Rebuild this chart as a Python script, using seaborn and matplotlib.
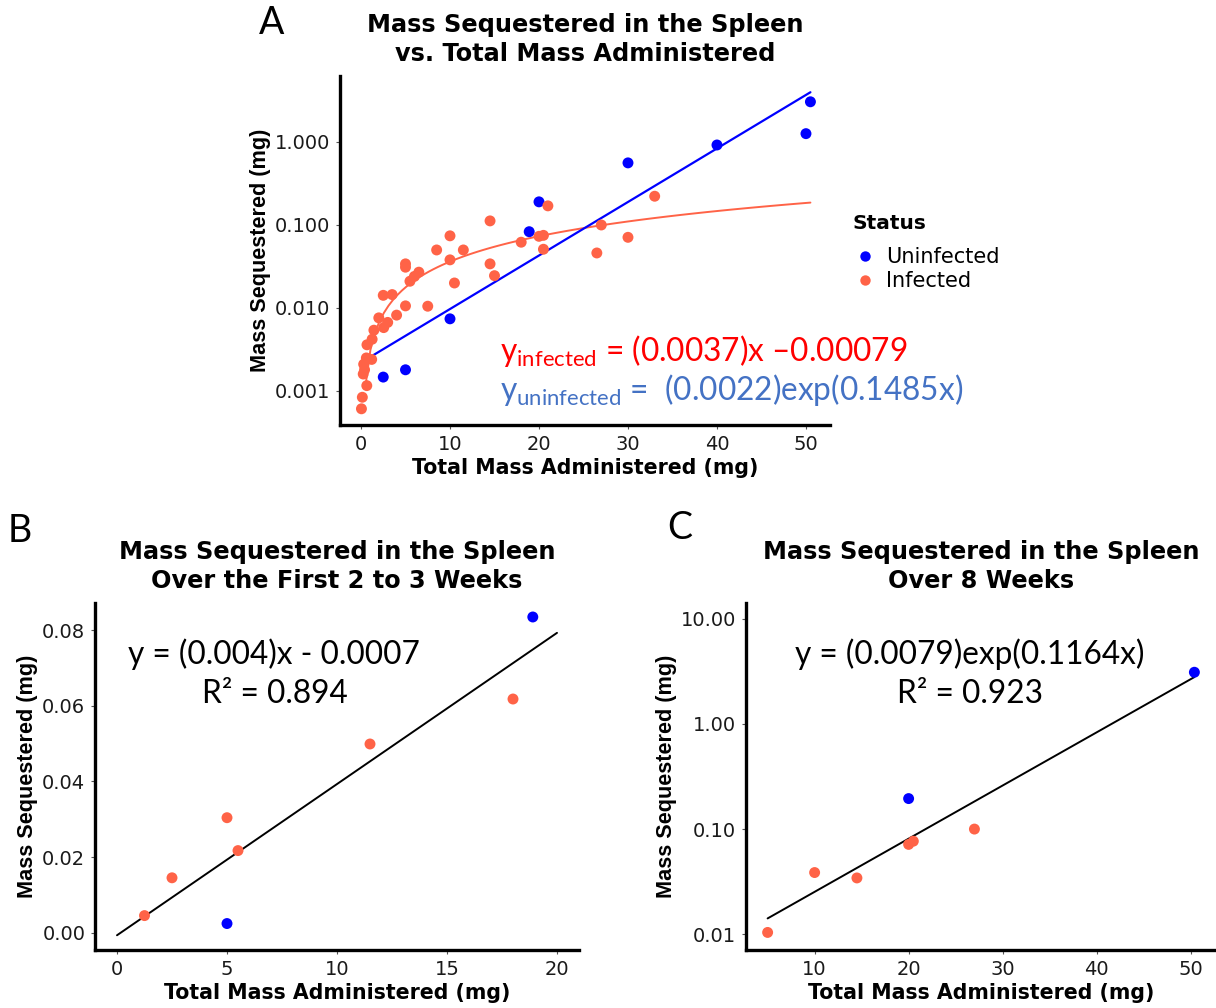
import numpy as np
import pandas as pd
import matplotlib
matplotlib.use("Agg")
import matplotlib.pyplot as plt
import seaborn as sns

# ---------------- data ----------------
status_order = ["Uninfected", "Infected"]
status_colors = ["#0000FF", "#FF6347"]

# Panel A
a_inf_x = [0.05, 0.15, 0.65, 0.25, 0.4, 0.3, 1.2, 0.6, 0.67, 1.25, 1.45, 2.0, 2.55, 3.0,
           2.5, 3.5, 4.0, 5.0, 5.0, 5.0, 5.5, 6.0, 6.5, 7.5, 8.5, 10.0, 10.0, 10.5, 11.5,
           14.5, 14.5, 15.0, 18.0, 20.0, 20.5, 20.5, 21.0, 26.5, 27.0, 30.0, 33.0]
a_inf_y = [0.00061, 0.00084, 0.00116, 0.00160, 0.00180, 0.0021, 0.0024, 0.0025, 0.0036, 0.0042,
           0.0054, 0.0076, 0.0058, 0.0067, 0.0142, 0.0145, 0.0082, 0.0106, 0.034, 0.031, 0.021,
           0.024, 0.027, 0.0105, 0.050, 0.074, 0.038, 0.020, 0.050, 0.112, 0.034, 0.0245, 0.062,
           0.073, 0.075, 0.051, 0.17, 0.046, 0.100, 0.071, 0.222]
a_uninf_x = [2.5, 5.0, 10.0, 18.9, 20.0, 30.0, 40.0, 50.0, 50.5]
a_uninf_y = [0.00147, 0.0018, 0.0074, 0.083, 0.19, 0.56, 0.92, 1.26, 3.05]
a_inf_coef = [0.0037, -0.00079]      # y = a*x + b
a_uninf_coef = [0.0022, 0.1485]      # y = a*exp(b*x)

# Panel B
b_inf_x = [1.25, 2.5, 5.0, 5.5, 11.5, 18.0]
b_inf_y = [0.0045, 0.0145, 0.0304, 0.0217, 0.0499, 0.0618]
b_uninf_x = [5.0, 18.9]
b_uninf_y = [0.0024, 0.0835]
b_coef = [0.004, -0.0007]
b_line_range = [0.0, 20.0]

# Panel C
c_inf_x = [5.0, 10.0, 14.5, 20.0, 20.5, 27.0]
c_inf_y = [0.0104, 0.0386, 0.0343, 0.0715, 0.0767, 0.100]
c_uninf_x = [20.0, 50.4]
c_uninf_y = [0.195, 3.1]
c_coef = [0.0079, 0.1164]

a_yticks = [0.001, 0.01, 0.1, 1.0]
a_yticklabels = ["0.001", "0.010", "0.100", "1.000"]
b_yticks = [0.0, 0.02, 0.04, 0.06, 0.08]
b_yticklabels = ["0.00", "0.02", "0.04", "0.06", "0.08"]
c_yticks = [0.01, 0.1, 1.0, 10.0]
c_yticklabels = ["0.01", "0.10", "1.00", "10.00"]

# ---------------- styling ----------------
sns.set_style("white")
plt.rcParams["font.family"] = ["DejaVu Sans"]
plt.rcParams["text.color"] = "black"
plt.rcParams["axes.labelcolor"] = "black"
plt.rcParams["mathtext.fontset"] = "custom"
plt.rcParams["mathtext.rm"] = "Lato"
plt.rcParams["mathtext.it"] = "Lato"

W, H = 1216, 1008
fig = plt.figure(figsize=(W / 100, H / 100), dpi=100)


def rect(l, t, r, b):
    return [l / W, 1 - b / H, (r - l) / W, (b - t) / H]


def frame(df_x, df_y, st):
    return pd.DataFrame({"x": df_x, "y": df_y, "Status": st})


def make_df(ix, iy, ux, uy):
    return pd.concat([frame(ux, uy, ["Uninfected"] * len(ux)),
                      frame(ix, iy, ["Infected"] * len(ix))], ignore_index=True)


def style_ax(ax, title):
    for s in ["top", "right"]:
        ax.spines[s].set_visible(False)
    for s in ["left", "bottom"]:
        ax.spines[s].set_linewidth(2.4)
        ax.spines[s].set_color("black")
    ax.tick_params(axis="both", which="major", length=3, width=0.8, color="#555555",
                   labelsize=14, labelcolor="#1a1a1a", pad=4, left=True, bottom=True)
    ax.tick_params(axis="both", which="minor", length=0)
    ax.set_xlabel("Total Mass Administered (mg)", fontsize=14.8, fontweight="bold",
                  labelpad=3, color="black")
    ax.set_ylabel("Mass Sequestered (mg)", fontsize=15.6, fontweight="bold", labelpad=3,
                  family=["Liberation Sans", "DejaVu Sans"], color="black")
    ax.set_title(title, fontsize=17.3, fontweight="bold", pad=10.5, linespacing=1.26,
                 color="black")
    ax.grid(False)


pal = dict(zip(status_order, status_colors))
eqfont = ["Lato", "DejaVu Sans"]
eqsize = 22.8

# ---------------- Panel A ----------------
axA = fig.add_axes(rect(340, 76, 830, 425))
dfA = make_df(a_inf_x, a_inf_y, a_uninf_x, a_uninf_y)
xs_all = a_inf_x + a_uninf_x
gx = np.linspace(min(xs_all), max(xs_all), 101)
gy_inf = a_inf_coef[0] * gx + a_inf_coef[1]
keep = gy_inf > 0
gy_un = a_uninf_coef[0] * np.exp(a_uninf_coef[1] * gx)
sns.lineplot(x=gx[keep], y=gy_inf[keep], ax=axA, color=status_colors[1], linewidth=1.4,
             estimator=None, sort=False, legend=False)
sns.lineplot(x=gx, y=gy_un, ax=axA, color=status_colors[0], linewidth=1.6,
             estimator=None, sort=False, legend=False)
sns.scatterplot(data=dfA, x="x", y="y", hue="Status", hue_order=status_order, palette=pal,
                s=62, linewidth=0, ax=axA, zorder=3)
axA.set_yscale("log")
axA.set_xlim(-2.36, 52.7)
axA.set_ylim(10 ** -3.41, 10 ** 0.795)
axA.set_xticks([0, 10, 20, 30, 40, 50])
axA.set_yticks(a_yticks)
axA.set_yticklabels(a_yticklabels)
style_ax(axA, "Mass Sequestered in the Spleen\nvs. Total Mass Administered")
leg = axA.legend(title="Status", loc="upper left", bbox_to_anchor=(852 / W, 1 - 214 / H),
                 bbox_transform=fig.transFigure, frameon=False, fontsize=15,
                 title_fontsize=14.5, handletextpad=0.45, labelspacing=0.2,
                 borderaxespad=0, borderpad=0, handlelength=1.2, markerscale=0.95)
leg.get_title().set_fontweight("bold")
leg._legend_box.align = "left"
leg._legend_box.sep = 10

fig.text(500 / W, 1 - 351 / H, r"$\mathrm{y}_{\mathrm{infected}}$ = (0.0037)x –0.00079",
         color="#FF0000", fontsize=eqsize, family=eqfont, ha="left", va="center")
fig.text(500 / W, 1 - 390 / H, r"$\mathrm{y}_{\mathrm{uninfected}}$ =  (0.0022)exp(0.1485x)",
         color="#4472C4", fontsize=eqsize, family=eqfont, ha="left", va="center")

# ---------------- Panel B ----------------
axB = fig.add_axes(rect(95, 603, 579, 950))
dfB = make_df(b_inf_x, b_inf_y, b_uninf_x, b_uninf_y)
bx = np.array(b_line_range)
sns.lineplot(x=bx, y=b_coef[0] * bx + b_coef[1], ax=axB, color="black", linewidth=1.4,
             estimator=None, sort=False, legend=False)
sns.scatterplot(data=dfB, x="x", y="y", hue="Status", hue_order=status_order, palette=pal,
                s=62, linewidth=0, ax=axB, zorder=3, legend=False)
axB.set_xlim(-1.0, 21.0)
axB.set_ylim(-0.0046, 0.0872)
axB.set_xticks([0, 5, 10, 15, 20])
axB.set_yticks(b_yticks)
axB.set_yticklabels(b_yticklabels)
style_ax(axB, "Mass Sequestered in the Spleen\nOver the First 2 to 3 Weeks")
fig.text(274 / W, 1 - 654 / H, "y = (0.004)x - 0.0007", color="black", fontsize=eqsize,
         family=eqfont, ha="center", va="center")
fig.text(275 / W, 1 - 694 / H, "R² = 0.894", color="black", fontsize=eqsize,
         family=eqfont, ha="center", va="center")

# ---------------- Panel C ----------------
axC = fig.add_axes(rect(746, 603, 1216, 950))
dfC = make_df(c_inf_x, c_inf_y, c_uninf_x, c_uninf_y)
cx_all = c_inf_x + c_uninf_x
cx = np.linspace(min(cx_all), max(cx_all), 101)
sns.lineplot(x=cx, y=c_coef[0] * np.exp(c_coef[1] * cx), ax=axC, color="black", linewidth=1.4,
             estimator=None, sort=False, legend=False)
sns.scatterplot(data=dfC, x="x", y="y", hue="Status", hue_order=status_order, palette=pal,
                s=62, linewidth=0, ax=axC, zorder=3, legend=False)
axC.set_yscale("log")
axC.set_xlim(2.7, 52.7)
axC.set_ylim(10 ** -2.15, 10 ** 1.15)
axC.set_xticks([10, 20, 30, 40, 50])
axC.set_yticks(c_yticks)
axC.set_yticklabels(c_yticklabels)
style_ax(axC, "Mass Sequestered in the Spleen\nOver 8 Weeks")
fig.text(970 / W, 1 - 654 / H, "y = (0.0079)exp(0.1164x)", color="black", fontsize=eqsize,
         family=eqfont, ha="center", va="center")
fig.text(970 / W, 1 - 694 / H, "R² = 0.923", color="black", fontsize=eqsize,
         family=eqfont, ha="center", va="center")

# panel letters
for letter, px, py in [("A", 272, 23), ("B", 20, 531), ("C", 680, 528)]:
    fig.text(px / W, 1 - py / H, letter, fontsize=27, family=eqfont, ha="center",
             va="center", color="black")

fig.savefig("out.png", dpi=100, facecolor="white")
